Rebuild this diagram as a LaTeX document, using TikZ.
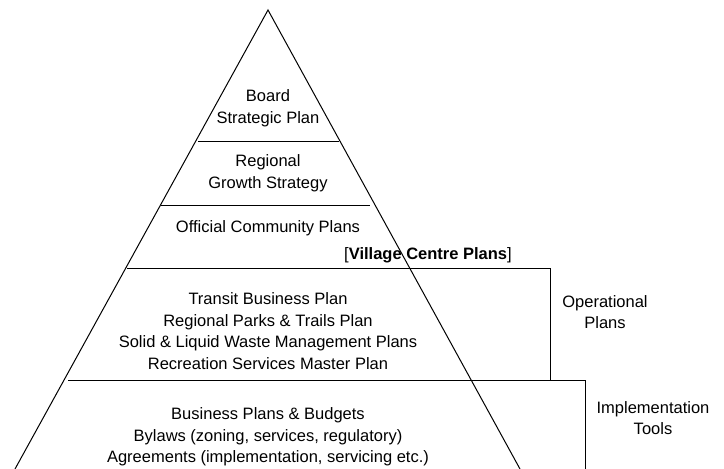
\documentclass[tikz,border=0pt]{standalone}
\usepackage{fontspec}
\setmainfont{Liberation Sans}
\usetikzlibrary{positioning}

\begin{document}
\begin{tikzpicture}[x=1pt, y=-1pt, line width=1pt,
    every node/.style={align=center, font=\fontsize{16.5}{21.5}\selectfont, inner sep=0pt}]

            \useasboundingbox (0,0) rectangle (724,469);

            % pyramid outline
            \coordinate (T) at (268,10);
            \coordinate (L) at (15,469);
            \coordinate (R) at (520,469);
            \draw (L) -- (T) -- (R);

            % levels
            \draw (198,141) -- (339,141);
            \draw (161,205) -- (370,205);
            \draw (127,268) -- (550,268) -- (550,380);
            \draw (68,380) -- (585,380) -- (585,469);

            \node (B) at (268,108) {Board\\Strategic Plan};
            \node (G) at (268,173) {Regional\\Growth Strategy};
            \node (O) at (268,228) {Official Community Plans};
            \node (V) at (428,255) {[\textbf{Village Centre Plans}]};
            \node (P) at (268,331) {Transit Business Plan\\Regional Parks \& Trails Plan\\
                Solid \& Liquid Waste Management Plans\\Recreation Services Master Plan};
            \node (I) at (268,437) {Business Plans \& Budgets\\Bylaws (zoning, services, regulatory)\\
                Agreements (implementation, servicing etc.)};

            \node (OP) at (605,312) {Operational\\Plans};
            \node (IT) at (653,418) {Implementation\\Tools};
        \end{tikzpicture}
\end{document}
